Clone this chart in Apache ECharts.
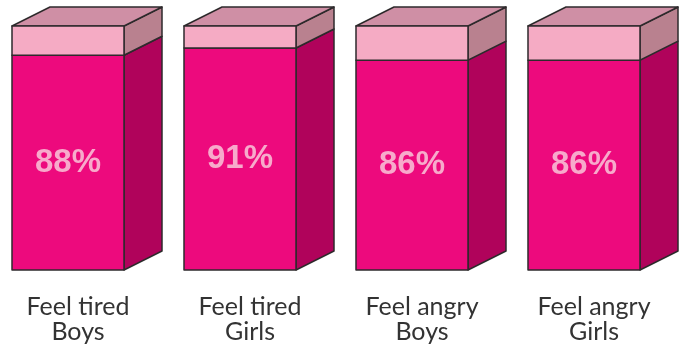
<!DOCTYPE html>
<html>
<head>
<meta charset="utf-8">
<script src="https://cdn.jsdelivr.net/npm/echarts@6/dist/echarts.min.js"></script>
<style>
  html, body { margin: 0; padding: 0; background: #ffffff; }
  #chart { width: 686px; height: 353px; }
</style>
</head>
<body>
<div id="chart"></div>
<script>
// Share of children reporting each feeling, by group
const categories = ['Feel tired\nBoys', 'Feel tired\nGirls', 'Feel angry\nBoys', 'Feel angry\nGirls'];
const percentages = [88, 91, 86, 86];
const fullScale = 100;

const chart = echarts.init(document.getElementById('chart'), null, { renderer: 'canvas' });

// Box geometry (pixels)
const HALF_W = 56;   // half of the front face width
const DX = 38;       // depth offset to the right
const DY = -19;      // depth offset upwards
const EDGE = '#2e2a2c';

const colors = {
  frontFill: '#ed0a7d',
  sideFill: '#b0035b',
  frontRest: '#f5abc4',
  sideRest: '#b9818f',
  top: '#cf8fa5',
  label: '#f7aacb'
};

function renderBox(params, api) {
  const idx = api.value(0);
  const v = api.value(1);
  const base = api.coord([idx, 0]);
  const mid = api.coord([idx, v]);
  const top = api.coord([idx, fullScale]);
  const x = base[0];
  const L = x - HALF_W, R = x + HALF_W;
  const y0 = base[1], y1 = mid[1], y2 = top[1];
  const edgeStyle = { stroke: EDGE, lineWidth: 1.5, lineJoin: 'round' };
  return {
    type: 'group',
    children: [
      {
        type: 'polygon',
        shape: { points: [[R, y1], [R + DX, y1 + DY], [R + DX, y0 + DY], [R, y0]] },
        style: Object.assign({ fill: colors.sideFill }, edgeStyle)
      },
      {
        type: 'polygon',
        shape: { points: [[R, y2], [R + DX, y2 + DY], [R + DX, y1 + DY], [R, y1]] },
        style: Object.assign({ fill: colors.sideRest }, edgeStyle)
      },
      {
        type: 'polygon',
        shape: { points: [[L, y2], [L + DX, y2 + DY], [R + DX, y2 + DY], [R, y2]] },
        style: Object.assign({ fill: colors.top }, edgeStyle)
      },
      {
        type: 'rect',
        shape: { x: L, y: y1, width: R - L, height: y0 - y1 },
        style: Object.assign({ fill: colors.frontFill }, edgeStyle)
      },
      {
        type: 'rect',
        shape: { x: L, y: y2, width: R - L, height: y1 - y2 },
        style: Object.assign({ fill: colors.frontRest }, edgeStyle)
      },
      {
        type: 'text',
        style: {
          x: x,
          y: (y0 + y1) / 2,
          text: v + '%',
          fill: colors.label,
          font: 'bold 33px "Liberation Sans", Arial, sans-serif',
          textAlign: 'center',
          textVerticalAlign: 'middle'
        }
      }
    ]
  };
}

chart.setOption({
  animation: false,
  grid: { left: 68, right: 102, top: 26, bottom: 83 },
  xAxis: {
    type: 'category',
    boundaryGap: false,
    data: categories,
    axisLine: { show: false },
    axisTick: { show: false },
    splitLine: { show: false },
    axisLabel: {
      interval: 0,
      margin: 24,
      color: '#333333',
      fontFamily: 'Lato, "Open Sans", sans-serif',
      fontSize: 25,
      lineHeight: 25,
      padding: [0, 0, 0, 20]
    }
  },
  yAxis: {
    type: 'value',
    min: 0,
    max: fullScale,
    show: false
  },
  series: [{
    type: 'custom',
    clip: false,
    renderItem: renderBox,
    data: percentages.map((p, i) => [i, p])
  }]
});
</script>
</body>
</html>
